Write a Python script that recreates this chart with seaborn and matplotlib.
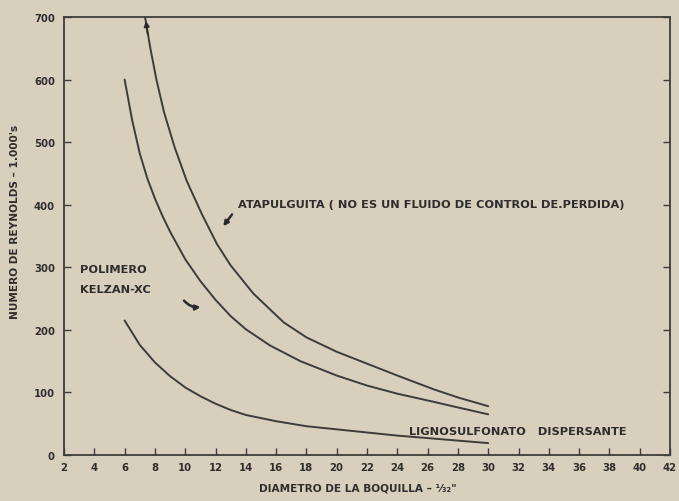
import matplotlib
matplotlib.use("Agg")
import matplotlib.pyplot as plt
import seaborn as sns
import pandas as pd

# Data
x_atap = [7.35, 7.7, 8.1, 8.6, 9.3, 10.1, 11.1, 12.1, 13.0, 14.5, 16.5, 18, 20, 22, 24, 26.4, 28, 30]
y_atap = [700, 650, 600, 548, 492, 438, 385, 337, 303, 258, 212, 188, 165, 146, 127, 105, 92, 78]

x_poli = [6, 6.5, 7, 7.5, 8, 8.5, 9, 10, 11, 12, 13, 14, 15.6, 17.6, 20, 22, 24, 26.4, 28, 30]
y_poli = [600, 535, 482, 442, 410, 382, 357, 313, 278, 248, 222, 201, 175, 150, 127, 111, 98, 85, 76, 65]

x_ligno = [6, 7, 8, 9, 10, 11, 12, 13, 14, 16, 18, 20, 22, 24, 26, 28, 30]
y_ligno = [215, 176, 148, 126, 108, 94, 82, 72, 64, 54, 46, 41, 36, 31, 27, 23, 19]

x_ticks = list(range(2, 43, 2))
y_ticks = list(range(0, 701, 100))

series_names = ["Atapulguita", "Polimero Kelzan-XC", "Lignosulfonato dispersante"]

df = pd.concat([
    pd.DataFrame({"x": x_atap, "y": y_atap, "s": series_names[0]}),
    pd.DataFrame({"x": x_poli, "y": y_poli, "s": series_names[1]}),
    pd.DataFrame({"x": x_ligno, "y": y_ligno, "s": series_names[2]}),
])

sns.set_theme(style="ticks")
bg = "#d9cfbd"
ink = "#3c3c3a"
txt = "#2e2e2e"
plt.rcParams["font.family"] = ["DejaVu Sans"]

fig = plt.figure(figsize=(6.79, 5.02), dpi=100, facecolor=bg)
ax = fig.add_axes([64/679, 1-456/502, (670-64)/679, (456-18)/502])
ax.set_facecolor(bg)

sns.lineplot(data=df, x="x", y="y", hue="s", estimator=None, sort=False,
             palette=[ink, ink, ink], linewidth=1.4, legend=False, ax=ax)

ax.set_xlim(2, 42)
ax.set_ylim(0, 700)
ax.set_xticks(x_ticks)
ax.set_yticks(y_ticks)
ax.set_xticklabels([str(t) for t in x_ticks])
ax.set_yticklabels([str(t) for t in y_ticks])
ax.tick_params(axis="both", direction="in", length=5, width=1, colors=ink,
               labelsize=7.3, labelcolor=txt)
ax.tick_params(axis="y", right=True, pad=6.5)
ax.tick_params(axis="x", pad=5)
for lab in ax.get_xticklabels() + ax.get_yticklabels():
    lab.set_fontweight("bold")
for sp in ax.spines.values():
    sp.set_color(ink)
    sp.set_linewidth(1.3)

ax.set_xlabel("DIAMETRO DE LA BOQUILLA – ¹⁄₃₂\"", fontsize=7.6, fontweight="bold",
              color=txt)
ax.xaxis.set_label_coords((358-64)/606, (456-484)/438)
ax.set_ylabel("NUMERO DE REYNOLDS – 1.000's", fontsize=7.6, fontweight="bold",
              color=txt)
ax.yaxis.set_label_coords((20-64)/606, (456-222)/438)

tk = dict(fontsize=8.2, fontweight="bold", color=txt)
ax.text(13.5, 401, "ATAPULGUITA ( NO ES UN FLUIDO DE CONTROL DE.PERDIDA)",
        ha="left", va="center", **tk)
ax.text(3.05, 297, "POLIMERO", ha="left", va="center", **tk)
ax.text(3.05, 265, "KELZAN-XC", ha="left", va="center", **tk)
ax.text(24.8, 38, "LIGNOSULFONATO   DISPERSANTE", ha="left", va="center", **tk)

arrow = dict(arrowstyle="-|>", color="#2a2a2a", lw=1.8, mutation_scale=7)
ax.annotate("", xy=(12.4, 362), xytext=(13.2, 388), arrowprops=arrow)
ax.annotate("", xy=(11.2, 237), xytext=(9.8, 250),
            arrowprops=dict(arrowstyle="-|>", color="#2a2a2a", lw=1.8,
                            mutation_scale=7, connectionstyle="arc3,rad=0.3"))
ax.annotate("", xy=(7.38, 698), xytext=(7.55, 668),
            arrowprops=dict(arrowstyle="-|>", color="#2a2a2a", lw=1.2,
                            mutation_scale=8))

fig.savefig("out.png", dpi=100, facecolor=bg)
